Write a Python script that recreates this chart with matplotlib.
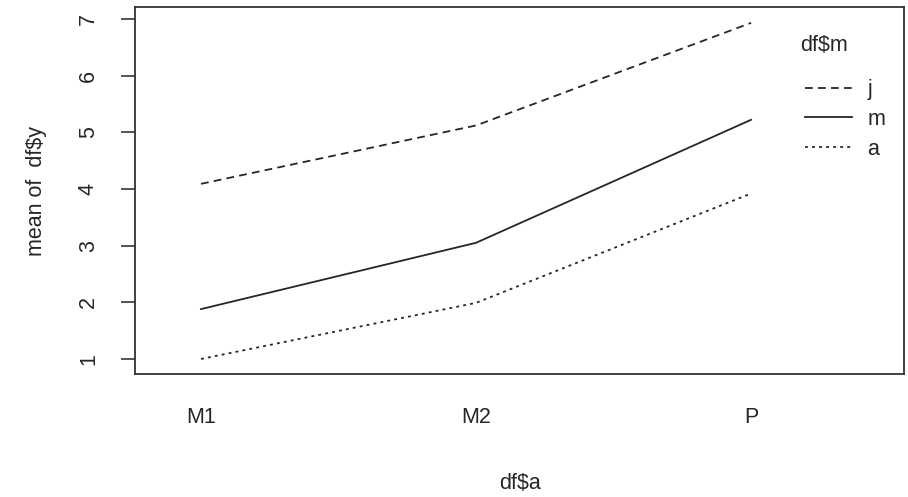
import matplotlib.pyplot as plt

plt.rcParams['font.family'] = ['Liberation Sans', 'DejaVu Sans']

# factor levels on the x axis and the traced factor
levels_a = ['M1', 'M2', 'P']
levels_m = ['j', 'm', 'a']

# mean of df$y for each level of df$a, one list per level of df$m
mean_j = [4.09, 5.12, 6.93]
mean_m = [1.88, 3.05, 5.22]
mean_a = [1.00, 1.99, 3.92]

styles = {'j': (0, (4.3, 2.9)), 'm': '-', 'a': (0, (1.6, 2.3))}
FS = 15.5
INK = '#262626'


def buildPlot():
    fig = plt.figure(figsize=(9.08, 4.97), dpi=100)
    ax = fig.add_axes([135 / 908, 123 / 497, 769 / 908, 367 / 497])

    xs = list(range(1, len(levels_a) + 1))
    for name, vals in zip(levels_m, [mean_j, mean_m, mean_a]):
        ax.plot(xs, vals, color=INK, lw=1.3, ls=styles[name], label=name)

    ax.set_xlim(0.76, 3.556)
    ax.set_ylim(0.735, 7.21)

    ax.set_xticks(xs)
    ax.set_xticklabels(levels_a)
    ax.tick_params(axis='x', length=0, pad=24, labelsize=FS, colors=INK)

    ax.set_yticks(range(1, 8))
    ax.tick_params(axis='y', length=10, width=1.1, pad=16, labelsize=FS,
                   colors=INK, labelrotation=90)
    for lab in ax.get_yticklabels():
        lab.set_va('center')

    for sp in ax.spines.values():
        sp.set_linewidth(1.3)
        sp.set_color('#333333')

    ax.set_xlabel('df$a', fontsize=FS, color=INK, labelpad=32)
    ax.set_ylabel('mean of  df$y', fontsize=FS, color=INK, labelpad=22)

    # legend title sits a bit above the entries, like R's legend()
    ax.text(0.865, 0.894, 'df$m', transform=ax.transAxes, fontsize=FS,
            color=INK, ha='left', va='center')
    ax.legend(frameon=False, loc='upper left', bbox_to_anchor=(0.871, 0.803),
              fontsize=FS, handlelength=2.2, handletextpad=0.7,
              labelspacing=0.4, borderpad=0, borderaxespad=0, labelcolor=INK)

    fig.savefig('out.png', dpi=100)


if __name__ == '__main__':
    buildPlot()
